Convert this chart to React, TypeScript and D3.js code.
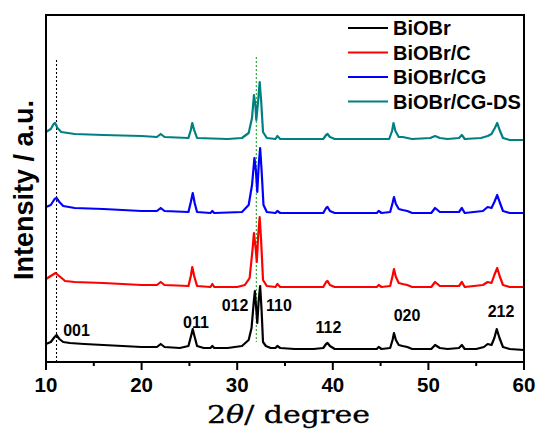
import React from "react";
import * as d3 from "d3";

// [2θ (deg), intensity (a.u., stacked as displayed)]
const BiOBr: [number, number][] = [
  [10.0, 18], [10.5, 20], [10.9, 25], [11.1, 27], [11.4, 23], [11.8, 20], [12.5, 19], [14, 18], [16, 17], [18, 16],
  [20, 15], [21.6, 15], [22.0, 18], [22.4, 15], [24, 14], [24.9, 16], [25.2, 27], [25.35, 33], [25.5, 27], [25.8, 16],
  [26.5, 14], [27.2, 14], [27.4, 16], [27.6, 14], [29, 14], [30.5, 16], [31.2, 22], [31.5, 34], [31.75, 62], [31.85, 71],
  [32.0, 52], [32.1, 39], [32.25, 62], [32.4, 76], [32.55, 52], [32.7, 20], [33.0, 16], [33.5, 14], [34.0, 14], [34.2, 16],
  [34.5, 14], [36, 13], [38, 13], [39.0, 14], [39.3, 18], [39.45, 19], [39.7, 16], [40.2, 13], [43, 13], [44.6, 13],
  [44.8, 15], [45.1, 13], [46.0, 14], [46.25, 22], [46.4, 29], [46.6, 22], [46.9, 17], [47.3, 16], [47.8, 15], [48.3, 13],
  [50.3, 13], [50.7, 17], [51.2, 14], [52, 13], [53.2, 14], [53.5, 17], [53.8, 13], [55, 13], [55.8, 15], [56.2, 18],
  [56.6, 17], [56.9, 24], [57.15, 33], [57.4, 25], [57.8, 15], [58.5, 13], [60, 12],
];
const BiOBrC: [number, number][] = [
  [10.0, 83], [10.5, 86], [11.0, 89], [11.5, 85], [12.0, 81], [13, 80], [16, 79], [20, 77], [21.6, 77], [22.0, 80],
  [22.4, 77], [24.9, 76], [25.15, 86], [25.3, 95], [25.5, 86], [25.8, 76], [27.2, 75], [27.4, 78], [27.6, 75], [30, 75],
  [30.8, 77], [31.3, 84], [31.6, 112], [31.75, 129], [31.95, 112], [32.05, 100], [32.2, 127], [32.35, 145], [32.5, 122], [32.7, 82],
  [33.1, 76], [34.0, 75], [34.2, 78], [34.5, 75], [39.0, 75], [39.3, 80], [39.45, 81], [39.7, 77], [40.2, 75], [44.6, 75],
  [44.8, 77], [45.1, 75], [46.0, 76], [46.25, 86], [46.4, 93], [46.6, 85], [46.9, 79], [47.3, 78], [47.8, 77], [48.3, 75],
  [50.3, 75], [50.7, 80], [51.2, 76], [53.2, 76], [53.5, 80], [53.8, 75], [55.7, 77], [56.2, 80], [56.6, 79], [56.9, 87],
  [57.2, 94], [57.45, 86], [57.8, 77], [58.5, 75], [60, 75],
];
const BiOBrCG: [number, number][] = [
  [10.0, 155], [10.5, 157], [10.9, 163], [11.1, 164], [11.4, 160], [11.8, 156], [13, 154], [16, 153], [20, 151], [21.6, 151],
  [22.0, 154], [22.4, 151], [24.9, 150], [25.15, 160], [25.35, 169], [25.55, 159], [25.8, 150], [27.2, 149], [27.4, 151], [27.6, 149],
  [30.5, 150], [31.2, 157], [31.55, 177], [31.8, 204], [31.95, 192], [32.1, 170], [32.25, 197], [32.4, 214], [32.55, 192], [32.75, 157],
  [33.1, 150], [34.0, 149], [34.2, 151], [34.5, 149], [39.0, 149], [39.3, 154], [39.45, 155], [39.7, 151], [40.2, 149], [44.6, 149],
  [44.8, 151], [45.1, 149], [46.0, 150], [46.25, 159], [46.4, 165], [46.6, 158], [46.9, 153], [47.3, 152], [47.8, 151], [48.3, 149],
  [50.3, 149], [50.7, 154], [51.2, 150], [53.2, 150], [53.5, 154], [53.8, 149], [55.7, 151], [56.2, 155], [56.6, 154], [56.9, 160],
  [57.2, 167], [57.45, 160], [57.8, 151], [58.5, 149], [60, 149],
];
const BiOBrCGDS: [number, number][] = [
  [10.0, 230], [10.5, 233], [10.8, 238], [10.95, 239], [11.2, 234], [11.6, 230], [13, 228], [16, 227], [20, 226], [21.6, 225],
  [22.0, 228], [22.4, 225], [24.9, 224], [25.15, 232], [25.3, 239], [25.5, 232], [25.8, 224], [29, 223], [30.5, 224], [31.2, 229],
  [31.55, 244], [31.75, 267], [31.9, 257], [32.0, 242], [32.2, 262], [32.35, 280], [32.5, 262], [32.7, 230], [33.1, 224], [34.0, 223],
  [34.2, 226], [34.5, 223], [39.0, 223], [39.3, 227], [39.45, 228], [39.7, 225], [40.2, 223], [45.9, 223], [46.2, 231], [46.35, 239],
  [46.55, 231], [46.9, 225], [47.3, 225], [48.3, 223], [50.2, 224], [50.7, 226], [51.2, 224], [52, 223], [53.2, 224], [53.5, 227],
  [53.8, 223], [55.5, 224], [56.2, 226], [56.6, 228], [56.95, 234], [57.2, 239], [57.45, 232], [57.8, 224], [58.5, 222], [60, 222],
];

const seriesNames = ["BiOBr", "BiOBr/C", "BiOBr/CG", "BiOBr/CG-DS"];
const seriesData = [BiOBr, BiOBrC, BiOBrCG, BiOBrCGDS];
const seriesColors = ["#000000", "#ff0000", "#0000ff", "#008080"];

const xTicks = [10, 20, 30, 40, 50, 60];
const xMinorTicks = [15, 25, 35, 45, 55];

// peak indices: label, 2θ, intensity anchor
const peakLabels = ["001", "011", "012", "110", "112", "020", "212"];
const peakX = [13.19, 25.69, 29.77, 34.37, 39.55, 47.76, 57.6];
const peakY = [26, 34, 51, 51, 29, 41, 45];

// reference dotted lines: 2θ, top intensity, bottom intensity
const refX = [11.1, 32.0];
const refTop = [302, 305];
const refBottom = [0, 20];
const refColors = ["#000000", "#22aa22"];

const W = 537, H = 430;
const M = { left: 46, right: 524, top: 15, bottom: 362 };

export default function App() {
  const x = d3.scaleLinear().domain([10, 60]).range([M.left, M.right]);
  const y = d3.scaleLinear().domain([0, 347]).range([M.bottom, M.top]);
  const line = d3.line<[number, number]>().x((d) => x(d[0])).y((d) => y(d[1]));

  const sans = "'Liberation Sans', Arial, Helvetica, sans-serif";
  const legendY = [28, 52.5, 77, 101.5];

  return (
    <svg width={W} height={H} style={{ position: "absolute", left: 0, top: 0, background: "#fff" }}>
      <rect x={0} y={0} width={W} height={H} fill="#fff" />
      {/* reference dotted lines */}
      {refX.map((rx, i) => (
        <line key={"r" + i} x1={x(rx)} x2={x(rx)} y1={y(refTop[i])} y2={y(refBottom[i])}
          stroke={refColors[i]} strokeWidth={1.1} strokeDasharray="2,2" />
      ))}
      {/* series */}
      {seriesData.map((s, i) => (
        <path key={"s" + i} d={line(s) || ""} fill="none" stroke={seriesColors[i]} strokeWidth={2.2}
          strokeLinejoin="round" strokeLinecap="round" />
      ))}
      {/* peak labels */}
      {peakLabels.map((t, i) => (
        <text key={"p" + i} x={x(peakX[i])} y={y(peakY[i])} textAnchor="middle" fontFamily={sans}
          fontWeight="bold" fontSize={16} fill="#000">{t}</text>
      ))}
      {/* frame */}
      <rect x={M.left} y={M.top} width={M.right - M.left} height={M.bottom - M.top} fill="none" stroke="#000" strokeWidth={2} />
      {/* ticks */}
      {xTicks.map((t) => (
        <g key={"t" + t}>
          <line x1={x(t)} x2={x(t)} y1={M.bottom} y2={M.bottom + 8} stroke="#000" strokeWidth={2} />
          <text x={x(t)} y={392} textAnchor="middle" fontFamily={sans} fontWeight="bold" fontSize={20.5} fill="#000">{t}</text>
        </g>
      ))}
      {xMinorTicks.map((t) => (
        <line key={"m" + t} x1={x(t)} x2={x(t)} y1={M.bottom} y2={M.bottom + 4} stroke="#000" strokeWidth={2} />
      ))}
      {/* axis labels */}
      <text transform="translate(33,190) rotate(-90)" textAnchor="middle" fontFamily={sans} fontWeight="bold"
        fontSize={27} fill="#000">Intensity / a.u.</text>
      <text x={207} y={423} textLength={163} lengthAdjust="spacingAndGlyphs" fontFamily="'DejaVu Serif', serif"
        fontSize={25} fill="#000" stroke="#000" strokeWidth={0.3}>2<tspan fontStyle="italic">θ</tspan>/ degree</text>
      {/* legend */}
      {seriesNames.map((n, i) => (
        <g key={"l" + i}>
          <line x1={348} x2={388} y1={legendY[i]} y2={legendY[i]} stroke={seriesColors[i]} strokeWidth={2.2} />
          <text x={393} y={legendY[i]} dy="0.35em" fontFamily={sans} fontWeight="bold" fontSize={20} fill="#000">{n}</text>
        </g>
      ))}
    </svg>
  );
}
